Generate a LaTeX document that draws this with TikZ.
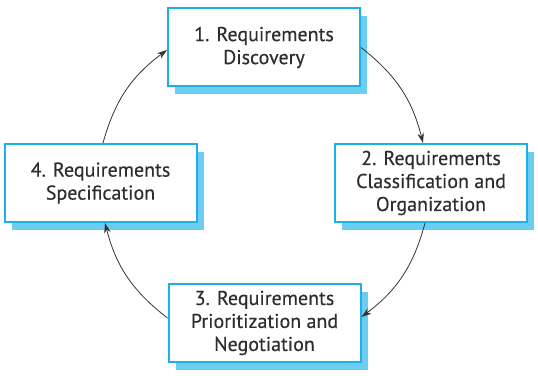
\documentclass[tikz,border=0pt]{standalone}
\usepackage{fontspec}
\setmainfont{PT Sans}[FakeBold=0.35]
\usetikzlibrary{arrows.meta,shadows}
\definecolor{boxblue}{HTML}{1EAEE8}
\definecolor{shadowblue}{HTML}{6BCDF2}
\definecolor{txt}{HTML}{2E2E2E}
\definecolor{arr}{HTML}{333333}
\tikzset{
  phase/.style={draw=boxblue, line width=2pt, fill=white,
    minimum width=192pt, minimum height=78pt, inner sep=0pt,
    align=center, text=txt, font=\fontsize{20pt}{23pt}\selectfont,
    copy shadow={shadow xshift=7pt, shadow yshift=-8pt, fill=shadowblue, draw=none}},
  flow/.style={draw=arr, line width=0.8pt, -{Stealth[length=10pt,width=6.5pt]}, bend left=19}
}
\begin{document}
\begin{tikzpicture}[x=1pt,y=1pt]
\useasboundingbox (0,0) rectangle (538,375);
\node[phase] (b1) at (264,327.5) {1. Requirements\\Discovery};
\node[phase] (b2) at (431,192) {2. Requirements\\Classification and\\Organization};
\node[phase] (b3) at (264.5,52) {3. Requirements\\Prioritization and\\Negotiation};
\node[phase] (b4) at (100.5,192) {4. Requirements\\Specification};
\draw[flow] (b1.east) to ([xshift=-8pt]b2.north);
\draw[flow] ([xshift=-6pt]b2.south) to ([yshift=6pt]b3.east);
\draw[flow] ([yshift=5pt]b3.west) to ([xshift=4.5pt]b4.south);
\draw[flow] ([xshift=2.5pt]b4.north) to ([yshift=-2.5pt]b1.west);
\end{tikzpicture}
\end{document}
